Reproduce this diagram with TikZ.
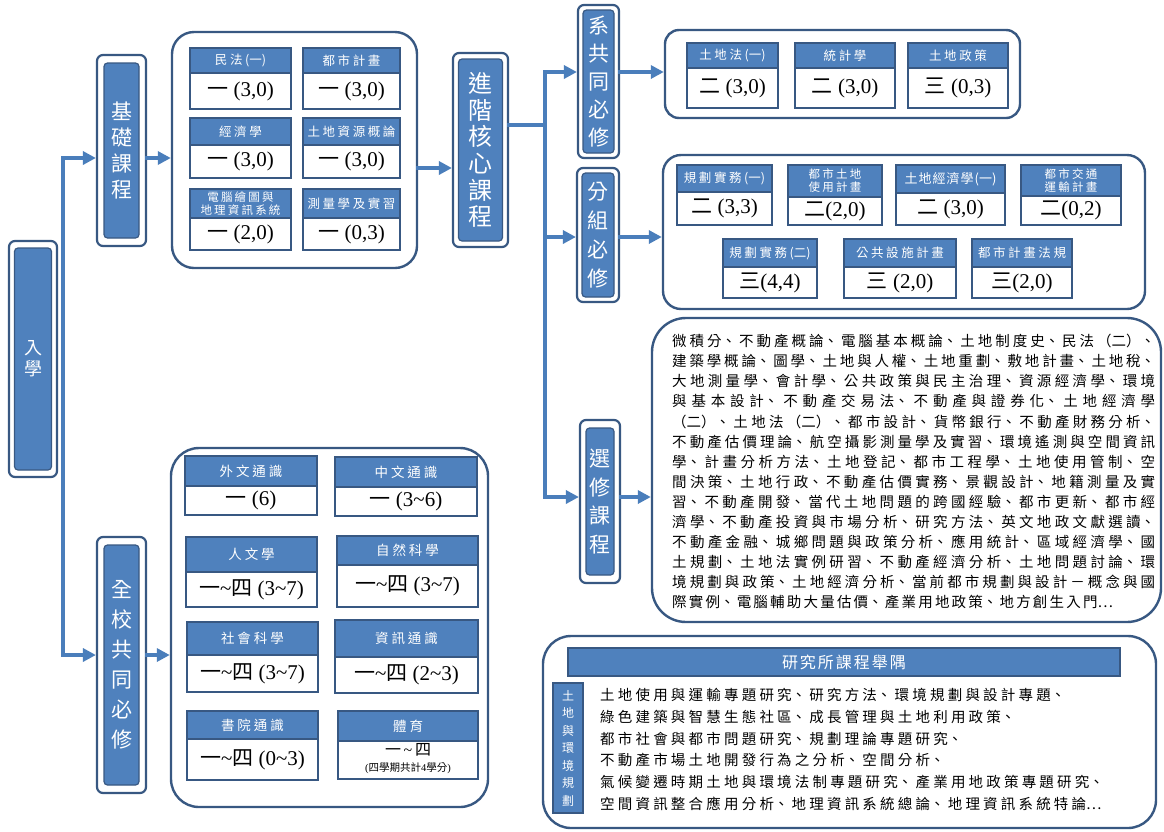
\documentclass[tikz,border=0pt]{standalone}
\usepackage{fontspec}
\setmainfont{Liberation Serif}
\newfontfamily\cjk{Noto Sans CJK TC}
\usetikzlibrary{arrows.meta,fit,calc}
\definecolor{mblue}{RGB}{79,129,189}
\definecolor{dblue}{RGB}{56,88,130}
\definecolor{ablue}{RGB}{74,126,187}
\XeTeXlinebreaklocale "zh"
\XeTeXlinebreakskip=0pt plus 1pt
\newcommand\tld{{\rmfamily\textasciitilde}}
\newcommand\yr[2]{{\cjk #1}\ #2}
\tikzset{
 ls/.style={execute at begin node={\global\XeTeXlinebreakskip=#1\relax}},
 lblout/.style={draw=dblue, line width=2.2pt, rounded corners=6pt, fill=white, inner sep=0pt},
 lblin/.style={draw=dblue, line width=1.2pt, rounded corners=3.5pt, fill=mblue, inner sep=0pt, text=white, align=center},
 bigbox/.style={draw=dblue, line width=2.4pt, fill=white, inner sep=0pt},
 hbox/.style={draw=dblue, line width=1.4pt, fill=mblue, inner sep=0pt},
 bbox/.style={draw=dblue, line width=1.4pt, fill=white, inner sep=0pt},
 htext/.style={text=white, align=center, inner sep=0pt, font=\cjk\fontsize{12.5}{14}\selectfont, ls=2.6pt},
 small2/.style={font=\cjk\fontsize{11.5}{13}\selectfont, ls=2.2pt},
 big13/.style={font=\cjk\fontsize{13.5}{15}\selectfont, ls=3pt},
 tight/.style={font=\cjk\fontsize{13}{15}\selectfont, ls=1pt},
 btext/.style={align=center, inner sep=0pt, font=\fontsize{21}{23}\selectfont},
 conn/.style={draw=ablue, line width=3.6pt, line cap=rect},
 arr/.style={conn, -{Triangle[length=13pt,width=13pt]}},
}
\newcommand\card[9][]{%
 \node[hbox, fit={(#3,#4) (#5,#6)}] (#2h) {};
 \pgfmathsetmacro\cw{#5-#3-4}%
 \node[htext,#1, text width=\cw pt] (#2ht) at (#2h.center) {#8};
 \node[bbox, fit={(#3,#6) (#5,#7)}] (#2b) {};
 \node[btext] (#2bt) at (#2b.center) {#9};
}
\begin{document}
\begin{tikzpicture}[x=1pt,y=-1pt]
\useasboundingbox (0,0) rectangle (1164,831);
\fill[white] (0,0) rectangle (1164,831);

% ---------- big boxes
\node[bigbox, rounded corners=22pt, fit={(172,32) (417,268)}] (bb) {};
\node[bigbox, rounded corners=28pt, fit={(171,448) (488,807)}] (qb) {};
\node[bigbox, rounded corners=14pt, fit={(665,30) (1020,118)}] (xb) {};
\node[bigbox, rounded corners=18pt, fit={(663,155) (1145,309)}] (fb) {};
\node[bigbox, rounded corners=34pt, fit={(652,318) (1161,622)}] (eb) {};
\node[bigbox, rounded corners=28pt, fit={(543,636) (1156,828)}] (gb) {};

% ---------- label nodes
\node[lblout, minimum width=48pt, minimum height=236pt] (rx) at (33,359) {};
\node[lblin, minimum width=37pt, minimum height=222pt, font=\cjk\fontsize{18}{21}\selectfont] (rxt) at (rx) {入\\學};

\node[lblout, minimum width=49pt, minimum height=191pt] (jc) at (121.5,150.5) {};
\node[lblin, minimum width=35pt, minimum height=175pt, font=\cjk\fontsize{21}{26}\selectfont] (jct) at (jc) {基\\礎\\課\\程};

\node[lblout, minimum width=49pt, minimum height=256pt] (qc) at (121.5,665) {};
\node[lblin, minimum width=35pt, minimum height=240pt, font=\cjk\fontsize{21}{30}\selectfont] (qct) at (qc) {全\\校\\共\\同\\必\\修};

\node[lblout, minimum width=55pt, minimum height=194pt] (jj) at (480.5,150) {};
\node[lblin, minimum width=44pt, minimum height=182pt, font=\cjk\fontsize{24}{26.7}\selectfont] (jjt) at (jj) {進\\階\\核\\心\\課\\程};

\node[lblout, minimum width=41pt, minimum height=153pt] (xc) at (598.5,81.5) {};
\node[lblin, minimum width=31pt, minimum height=143pt, font=\cjk\fontsize{21}{28}\selectfont] (xct) at (xc) {系\\共\\同\\必\\修};

\node[lblout, minimum width=42pt, minimum height=134pt] (fc) at (598,235) {};
\node[lblin, minimum width=32pt, minimum height=124pt, font=\cjk\fontsize{21}{29}\selectfont] (fct) at (fc) {分\\組\\必\\修};

\node[lblout, minimum width=40pt, minimum height=163pt] (sc) at (600,501.5) {};
\node[lblin, minimum width=28pt, minimum height=147pt, font=\cjk\fontsize{21}{28.5}\selectfont] (sct) at (sc) {選\\修\\課\\程};

% ---------- connectors
\coordinate (vt) at (63,158);
\coordinate (vbt) at (63,655);
\draw[arr] (vbt) -- (vt) -- (vt -| jc.west);
\draw[arr] (vbt) -- (vbt -| qc.west);
\draw[arr] (jc.east |- vt) -- (vt -| bb.west);
\draw[arr] (qc.east |- vbt) -- (vbt -| qb.west);
\coordinate (ab) at (430,168);
\draw[arr] (bb.east |- ab) -- (ab -| jj.west);
\coordinate (tr) at (545,125);
\coordinate (t1) at (545,72);
\coordinate (t2) at (545,237);
\coordinate (t3) at (545,497);
\draw[conn] (jj.east |- tr) -- (tr);
\draw[arr] (t3) -- (t1) -- (t1 -| xc.west);
\draw[arr] (t2) -- (t2 -| fc.west);
\draw[arr] (t3) -- (t3 -| sc.west);
\draw[arr] (xc.east |- t1) -- (t1 -| xb.west);
\draw[arr] (fc.east |- t2) -- (t2 -| fb.west);
\draw[arr] (sc.east |- t3) -- (t3 -| eb.west);

% ---------- basic course cards
\card{b1}{190}{48}{291}{73}{109}{民法(一)}{\yr{一}{(3,0)}}
\card{b2}{303}{48}{400}{73}{109}{都市計畫}{\yr{一}{(3,0)}}
\card{b3}{190}{118}{291}{145}{178}{經濟學}{\yr{一}{(3,0)}}
\card{b4}{303}{118}{400}{145}{178}{土地資源概論}{\yr{一}{(3,0)}}
\card[small2]{b5}{190}{189}{291}{218}{250}{電腦繪圖與\\地理資訊系統}{\yr{一}{(2,0)}}
\card{b6}{303}{189}{400}{218}{250}{測量學及實習}{\yr{一}{(0,3)}}

% ---------- department required
\card{x1}{687}{43}{778}{68}{108}{土地法(一)}{\yr{二}{(3,0)}}
\card{x2}{795}{43}{895}{68}{108}{統計學}{\yr{二}{(3,0)}}
\card{x3}{908}{43}{1008}{68}{108}{土地政策}{\yr{三}{(0,3)}}

% ---------- group required
\card{f1}{677}{165}{772}{192}{225}{規劃實務(一)}{\yr{二}{(3,3)}}
\card[small2]{f2}{788}{165}{882}{197}{225}{都市土地\\使用計畫}{{\cjk 二}(2,0)}
\card[tight]{f3}{896}{165}{1005}{193}{225}{土地經濟學(一)}{\yr{二}{(3,0)}}
\card[small2]{f4}{1021}{165}{1121}{196}{225}{都市交通\\運輸計畫}{{\cjk 二}(0,2)}
\card{f5}{723}{239}{817}{267}{298}{規劃實務(二)}{{\cjk 三}(4,4)}
\card{f6}{844}{239}{956}{267}{298}{公共設施計畫}{\yr{三}{(2,0)}}
\card{f7}{972}{239}{1072}{267}{298}{都市計畫法規}{{\cjk 三}(2,0)}

% ---------- general education
\card[big13]{q1}{185}{456}{317}{486}{515}{外文通識}{\yr{一}{(6)}}
\card[big13]{q2}{335}{457}{477}{487}{516}{中文通識}{\yr{一}{(3\tld 6)}}
\card[big13]{q3}{186}{537}{317}{572}{607}{人文學}{\yr{一\tld 四}{(3\tld 7)}}
\card[big13]{q4}{337}{536}{478}{565}{607}{自然科學}{\yr{一\tld 四}{(3\tld 7)}}
\card[big13]{q5}{187}{622}{318}{655}{692}{社會科學}{\yr{一\tld 四}{(3\tld 7)}}
\card[big13]{q6}{335}{620}{478}{657}{693}{資訊通識}{\yr{一\tld 四}{(2\tld 3)}}
\card[big13]{q7}{187}{711}{318}{739}{780}{書院通識}{\yr{一\tld 四}{(0\tld 3)}}
\node[hbox, fit={(338,711) (478,741)}] (q8h) {};
\node[htext, big13, text width=136pt] (q8ht) at (q8h.center) {體育};
\node[bbox, fit={(338,741) (478,779)}] (q8b) {};
\node[inner sep=0pt, font=\fontsize{16}{16}\selectfont] (q8b1) at ($(q8b.center)+(0,-10)$) {{\cjk 一}\,\tld\,{\cjk 四}};
\node[inner sep=0pt, font=\fontsize{10.5}{12}\selectfont] (q8b2) at ($(q8b.center)+(0,8)$) {({\cjk 四學期共計}4{\cjk 學分})};

% ---------- electives
\node[anchor=north west, text width=483pt, align=justify, inner sep=0pt,
  font=\cjk\fontsize{14.5}{20.1}\selectfont] (et) at (672,334) {%
\XeTeXlinebreakskip=0pt plus 4pt\relax\parfillskip=0pt\tolerance=10000\relax
微積分、不動產概論、電腦基本概論、土地制度史、民法（二）、\par
建築學概論、圖學、土地與人權、土地重劃、敷地計畫、土地稅、\par
大地測量學、會計學、公共政策與民主治理、資源經濟學、環境\par
與基本設計、不動產交易法、不動產與證券化、土地經濟學\par
（二）、土地法（二）、都市設計、貨幣銀行、不動產財務分析、\par
不動產估價理論、航空攝影測量學及實習、環境遙測與空間資訊\par
學、計畫分析方法、土地登記、都市工程學、土地使用管制、空\par
間決策、土地行政、不動產估價實務、景觀設計、地籍測量及實\par
習、不動產開發、當代土地問題的跨國經驗、都市更新、都市經\par
濟學、不動產投資與市場分析、研究方法、英文地政文獻選讀、\par
不動產金融、城鄉問題與政策分析、應用統計、區域經濟學、國\par
土規劃、土地法實例研習、不動產經濟分析、土地問題討論、環\par
境規劃與政策、土地經濟分析、當前都市規劃與設計－概念與國\par
\XeTeXlinebreakskip=2.2pt\relax\parfillskip=0pt plus 1fil\relax
際實例、電腦輔助大量估價、產業用地政策、地方創生入門…\par};

% ---------- graduate
\node[hbox, fit={(568,648) (1120,676)}] (gh) {};
\node[htext, text width=540pt, font=\cjk\fontsize{16}{18}\selectfont, ls=2pt] (ght) at (gh.center) {研究所課程舉隅};
\node[hbox, minimum width=30pt, minimum height=130pt] (gs) at (568,748) {};
\node[text=white, align=center, inner sep=0pt, font=\cjk\fontsize{12}{17.5}\selectfont] (gst) at (gs.center) {土\\地\\與\\環\\境\\規\\劃};
\node[anchor=north west, text width=560pt, align=left, inner sep=0pt,
  font=\cjk\fontsize{14.5}{21.8}\selectfont, ls=3.2pt] (gt) at (600,688) {%
土地使用與運輸專題研究、研究方法、環境規劃與設計專題、\\
綠色建築與智慧生態社區、成長管理與土地利用政策、\\
都市社會與都市問題研究、規劃理論專題研究、\\
不動產市場土地開發行為之分析、空間分析、\\
氣候變遷時期土地與環境法制專題研究、產業用地政策專題研究、\\
空間資訊整合應用分析、地理資訊系統總論、地理資訊系統特論…};
\end{tikzpicture}
\end{document}
